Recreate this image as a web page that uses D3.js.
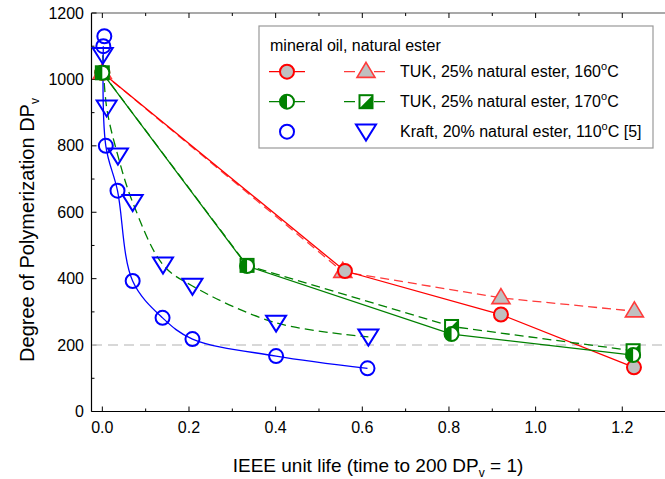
<!DOCTYPE html>
<html><head><meta charset="utf-8">
<script src="https://cdnjs.cloudflare.com/ajax/libs/d3/7.8.5/d3.min.js"></script>
<style>body{margin:0;background:#fff}svg{display:block;font-family:"Liberation Sans",Arial,sans-serif}</style>
</head><body><svg id="c" width="665" height="479"></svg>
<script>
// ---- data ----
const xTicks = [0.0, 0.2, 0.4, 0.6, 0.8, 1.0, 1.2];
const yTicks = [0, 200, 400, 600, 800, 1000, 1200];
const tukMin160 = [[0.0,1020],[0.56,423],[0.92,292],[1.227,133]];
const tukNat160 = [[0.0,1020],[0.555,421],[0.92,342],[1.228,302]];
const tukMin170 = [[0.0,1020],[0.334,438],[0.806,233],[1.225,170]];
const tukNat170 = [[0.0,1020],[0.334,440],[0.806,256],[1.225,183]];
const kraftMin110 = [[0.0046,1130],[0.0023,1100],[0.008,800],[0.035,665],[0.07,393],[0.139,282],[0.208,218],[0.401,167],[0.612,130]];
const kraftNat110 = [[0.001,1073],[0.01,915],[0.036,770],[0.07,630],[0.14,442],[0.208,378],[0.401,267],[0.614,225]];
const refLevel = 200;
const legendTitle = "mineral oil, natural ester";
const legendRows = [
  {text:"TUK, 25% natural ester, 160", sup:"o", tail:"C"},
  {text:"TUK, 25% natural ester, 170", sup:"o", tail:"C"},
  {text:"Kraft, 20% natural ester, 110", sup:"o", tail:"C [5]"}
];

const svg = d3.select("#c");
const x = d3.scaleLinear().domain([-0.025, 1.3]).range([91.5, 665.6]);
const y = d3.scaleLinear().domain([0, 1200]).range([411.5, 13]);
const RED="#ff0000", RED2="#ff3a3a", GREEN="#008000", BLUE="#0000ff", GRAY="#c0c0c0";

// frame
const ax = svg.append("g");
ax.append("line").attr("x1",91.5).attr("x2",91.5).attr("y1",13).attr("y2",411.5).attr("stroke","#000").attr("stroke-width",1.2);
ax.append("line").attr("x1",91.5).attr("x2",665).attr("y1",411.5).attr("y2",411.5).attr("stroke","#000").attr("stroke-width",1.2);
ax.append("line").attr("x1",91.5).attr("x2",665).attr("y1",13).attr("y2",13).attr("stroke","#555").attr("stroke-width",1.2);

// x ticks (inside) major/minor, bottom & top
const xMinor = d3.range(0, 1.31, 0.1);
xMinor.forEach((v,i)=>{
  const major = i%2===0, len = major?5:3;
  ax.append("line").attr("x1",x(v)).attr("x2",x(v)).attr("y1",411.5).attr("y2",411.5-len).attr("stroke","#000");
  ax.append("line").attr("x1",x(v)).attr("x2",x(v)).attr("y1",13).attr("y2",13+len).attr("stroke","#000");
});
const yMinor = d3.range(0, 1201, 100);
yMinor.forEach((v,i)=>{
  const major = i%2===0, len = major?5:3;
  ax.append("line").attr("x1",91.5).attr("x2",91.5+len).attr("y1",y(v)).attr("y2",y(v)).attr("stroke","#000");
});
xTicks.forEach(v=>{
  ax.append("text").attr("x",x(v)).attr("y",433).attr("text-anchor","middle").attr("font-size",16).text(d3.format(".1f")(v));
});
yTicks.forEach(v=>{
  ax.append("text").attr("x",84).attr("y",y(v)+5.5).attr("text-anchor","end").attr("font-size",16).text(v);
});

// axis titles
const xt = svg.append("text").attr("x",378).attr("y",472).attr("text-anchor","middle").attr("font-size",19);
xt.append("tspan").text("IEEE unit life (time to 200 DP");
xt.append("tspan").attr("font-size",12).attr("dy",5).text("v");
xt.append("tspan").attr("dy",-5).text(" = 1)");
const yt = svg.append("text").attr("transform","translate(34,230) rotate(-90)").attr("text-anchor","middle").attr("font-size",20);
yt.append("tspan").text("Degree of Polymerization DP");
yt.append("tspan").attr("font-size",12).attr("dy",5).text("v");

// reference line
svg.append("line").attr("x1",92).attr("x2",665).attr("y1",y(refLevel)).attr("y2",y(refLevel))
  .attr("stroke","#cccccc").attr("stroke-width",1.5).attr("stroke-dasharray","10,6");

// lines
const lin = d3.line().x(d=>x(d[0])).y(d=>y(d[1]));
const smooth = d3.line().x(d=>x(d[0])).y(d=>y(d[1])).curve(d3.curveCatmullRom.alpha(0.5));
const g = svg.append("g").attr("fill","none").attr("stroke-width",1.3);
g.append("path").attr("d",lin(tukNat160)).attr("stroke",RED2).attr("stroke-dasharray","9,5");
g.append("path").attr("d",lin(tukMin160)).attr("stroke",RED);
g.append("path").attr("d",lin(tukNat170)).attr("stroke",GREEN).attr("stroke-dasharray","9,5");
g.append("path").attr("d",lin(tukMin170)).attr("stroke",GREEN);
g.append("path").attr("d",smooth(kraftNat110)).attr("stroke",GREEN).attr("stroke-dasharray","9,5");
g.append("path").attr("d",smooth(kraftMin110.slice(1))).attr("stroke",BLUE);

// marker drawers
function circleGray(sel,cx,cy){ sel.append("circle").attr("cx",cx).attr("cy",cy).attr("r",7).attr("fill",GRAY).attr("stroke",RED).attr("stroke-width",2); }
function triUp(sel,cx,cy){ const h=15,w=18; sel.append("path").attr("d",`M${cx},${cy-h*0.62}L${cx+w/2},${cy+h*0.38}L${cx-w/2},${cy+h*0.38}Z`).attr("fill",GRAY).attr("stroke",RED2).attr("stroke-width",1.6); }
function halfCircle(sel,cx,cy){ const r=7; const gg=sel.append("g");
  gg.append("circle").attr("cx",cx).attr("cy",cy).attr("r",r).attr("fill","#fff");
  gg.append("path").attr("d",`M${cx},${cy-r}A${r},${r} 0 0 0 ${cx},${cy+r}Z`).attr("fill",GREEN);
  gg.append("circle").attr("cx",cx).attr("cy",cy).attr("r",r).attr("fill","none").attr("stroke",GREEN).attr("stroke-width",2); }
function halfSquare(sel,cx,cy){ const s=13,h=s/2; const gg=sel.append("g");
  gg.append("rect").attr("x",cx-h).attr("y",cy-h).attr("width",s).attr("height",s).attr("fill","#fff");
  gg.append("path").attr("d",`M${cx+h},${cy-h}L${cx+h},${cy+h}L${cx-h},${cy+h}Z`).attr("fill",GREEN);
  gg.append("rect").attr("x",cx-h).attr("y",cy-h).attr("width",s).attr("height",s).attr("fill","none").attr("stroke",GREEN).attr("stroke-width",2); }
function openCircle(sel,cx,cy){ sel.append("circle").attr("cx",cx).attr("cy",cy).attr("r",7).attr("fill","none").attr("stroke",BLUE).attr("stroke-width",2); }
function triDown(sel,cx,cy){ const h=16,w=20; sel.append("path").attr("d",`M${cx-w/2},${cy-h*0.45}L${cx+w/2},${cy-h*0.45}L${cx},${cy+h*0.55}Z`).attr("fill","none").attr("stroke",BLUE).attr("stroke-width",2); }

const m = svg.append("g");
tukNat160.forEach(d=>triUp(m,x(d[0]),y(d[1])));
tukMin160.forEach(d=>circleGray(m,x(d[0]),y(d[1])));
tukNat170.forEach(d=>halfSquare(m,x(d[0]),y(d[1])));
tukMin170.forEach(d=>halfCircle(m,x(d[0]),y(d[1])));
kraftNat110.forEach(d=>triDown(m,x(d[0]),y(d[1])));
kraftMin110.forEach(d=>openCircle(m,x(d[0]),y(d[1])));

// legend
const L = svg.append("g");
L.append("rect").attr("x",259).attr("y",26).attr("width",394).attr("height",122).attr("fill","#fff").attr("stroke","#999").attr("stroke-width",1.2);
L.append("text").attr("x",270).attr("y",51).attr("font-size",16).text(legendTitle);
const rowsY=[71.7,101.7,131.7];
const lineCols=[RED,GREEN,BLUE], line2Cols=[RED2,GREEN,null];
const mk1=[circleGray,halfCircle,openCircle], mk2=[triUp,halfSquare,triDown];
legendRows.forEach((r,i)=>{
  const yy=rowsY[i];
  if(i<2){
    L.append("line").attr("x1",269).attr("x2",305).attr("y1",yy).attr("y2",yy).attr("stroke",lineCols[i]).attr("stroke-width",1.3);
    L.append("line").attr("x1",344).attr("x2",385).attr("y1",yy).attr("y2",yy).attr("stroke",line2Cols[i]).attr("stroke-width",1.3).attr("stroke-dasharray","11,19");
  }
  mk1[i](L,287,yy);
  mk2[i](L,366,yy);
  const t=L.append("text").attr("x",400).attr("y",yy+5.5).attr("font-size",16);
  t.append("tspan").text(r.text);
  t.append("tspan").attr("font-size",11).attr("dy",-7).text(r.sup);
  t.append("tspan").attr("dy",7).text(r.tail);
});
</script></body></html>
